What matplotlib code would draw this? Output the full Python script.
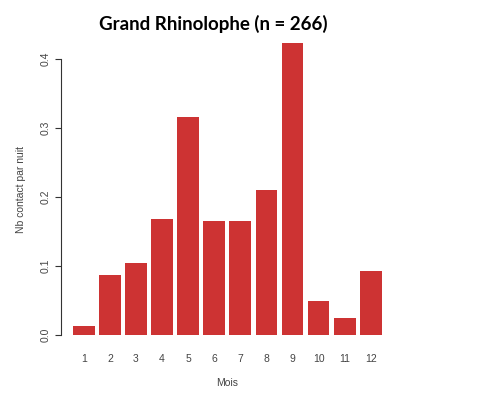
import numpy as np
import matplotlib.pyplot as plt

plt.rcParams['font.family'] = ['Liberation Sans', 'DejaVu Sans']

mois = ["1", "2", "3", "4", "5", "6", "7", "8", "9", "10", "11", "12"]
contacts = [0.013, 0.087, 0.104, 0.168, 0.316, 0.165, 0.165, 0.210, 0.423, 0.049, 0.025, 0.093]
yticks = [0.0, 0.1, 0.2, 0.3, 0.4]

fig = plt.figure(figsize=(4.81, 4.03), dpi=100)
ax = fig.add_axes([0.126, 0.139, 0.693, 0.784])

# R barplot style: width 1, space 0.2
x = 0.7 + 1.2 * np.arange(len(mois))
ax.bar(x, contacts, width=1.0, color="#CD3333")

ax.set_xlim(-0.368, 14.968)
ax.set_ylim(-0.017, 0.44)

for s in ["top", "right", "bottom"]:
    ax.spines[s].set_visible(False)
ax.spines["left"].set_bounds(0, 0.4)
ax.spines["left"].set_color("#333333")
ax.spines["left"].set_linewidth(0.8)

ax.set_yticks(yticks)
ax.set_yticklabels([f"{v:.1f}" for v in yticks], rotation=90, va="center",
                   fontsize=7.5, color="#444444")
ax.tick_params(axis="y", length=4, width=0.8, color="#333333", pad=3)

ax.set_xticks(x)
ax.set_xticklabels(mois, fontsize=7.5, color="#444444")
ax.tick_params(axis="x", length=0, pad=5)

ax.set_xlabel("Mois", fontsize=7.5, color="#444444", labelpad=10)
ax.set_ylabel("Nb contact par nuit", fontsize=7.5, color="#444444", labelpad=11)

fig.text(213 / 481, 1 - 24 / 403, "Grand Rhinolophe (n = 266)", ha="center", va="center",
         fontsize=13.5, fontweight="bold", family="Lato")

fig.savefig("out.png", dpi=100)
